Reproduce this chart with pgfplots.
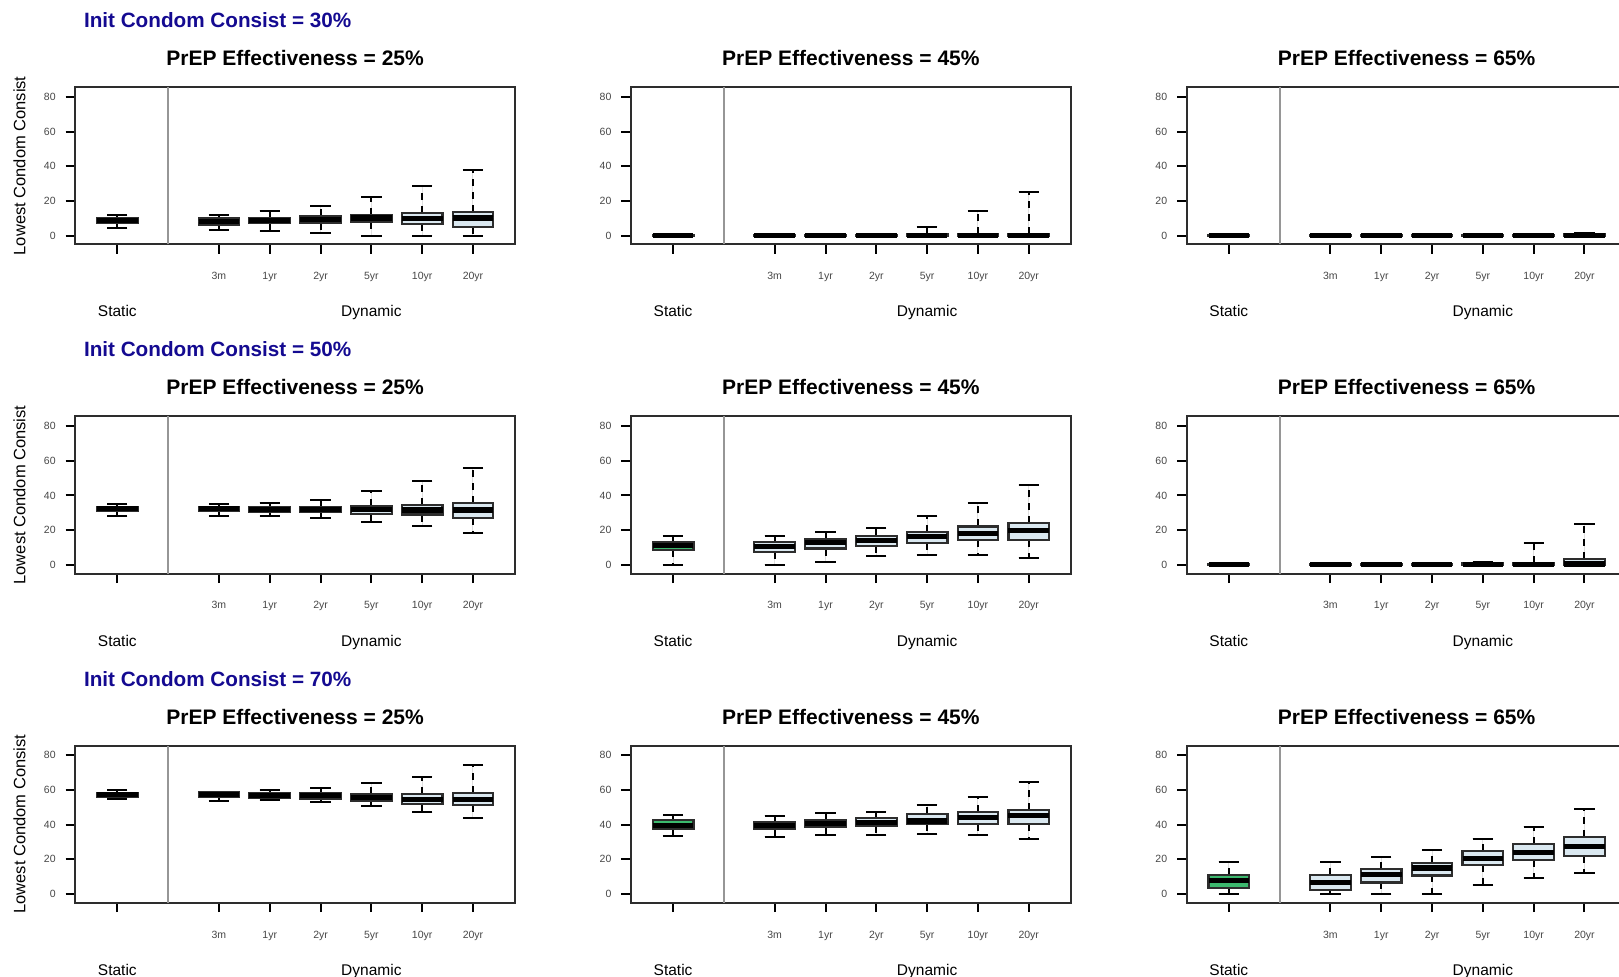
\documentclass[border=0pt]{standalone}
\usepackage{pgfplots}
\pgfplotsset{compat=1.18}
\usepgfplotslibrary{statistics}
\usepackage{fontspec}
\setmainfont{Liberation Sans}
\definecolor{initblue}{RGB}{20,10,145}
\definecolor{boxgreen}{RGB}{60,185,110}
\definecolor{boxblue}{RGB}{218,232,240}
\definecolor{framecol}{RGB}{45,45,45}
\definecolor{sepcol}{RGB}{150,150,150}
\definecolor{ticklab}{RGB}{70,70,70}

\pgfplotsset{
  boxplot/draw direction=y,
  boxplot/draw/lower whisker/.code={%
    \draw[line width=1pt, black, dash pattern=on 3.5pt off 3pt]
      (boxplot box cs:\pgfplotsboxplotvalue{lower quartile},0.5) --
      (boxplot box cs:\pgfplotsboxplotvalue{lower whisker},0.5);
    \draw[line width=1pt, black, solid]
      (boxplot whisker cs:\pgfplotsboxplotvalue{lower whisker},0) --
      (boxplot whisker cs:\pgfplotsboxplotvalue{lower whisker},1);
  },
  boxplot/draw/upper whisker/.code={%
    \draw[line width=1pt, black, dash pattern=on 3.5pt off 3pt]
      (boxplot box cs:\pgfplotsboxplotvalue{upper quartile},0.5) --
      (boxplot box cs:\pgfplotsboxplotvalue{upper whisker},0.5);
    \draw[line width=1pt, black, solid]
      (boxplot whisker cs:\pgfplotsboxplotvalue{upper whisker},0) --
      (boxplot whisker cs:\pgfplotsboxplotvalue{upper whisker},1);
  },
  boxplot/every median/.style={line width=2.6pt, solid, draw=black},
  panel/.style={
    scale only axis, width=220.15pt, height=78.5pt,
    xmin=0.167, xmax=8.833, ymin=-5, ymax=85.5,
    axis line style={line width=1pt, draw=framecol},
    xtick={1,3,4,5,6,7,8}, ytick={0,20,40,60,80},
    xticklabels={}, yticklabels={},
    tick align=outside, xtick pos=bottom, ytick pos=left,
    major tick length=4.75pt,
    tick style={line width=1pt, black},
    clip mode=individual,
    anchor=north west,
  },
}
\tikzset{
  ylab/.style={anchor=east, xshift=-9.5pt, inner sep=0pt, text=ticklab, font=\fontsize{5.25}{6}\selectfont},
  xlab/.style={anchor=base, yshift=-17.7pt, inner sep=0pt, text=ticklab, font=\fontsize{5.25}{6}\selectfont},
  grp/.style={anchor=base, yshift=-36.3pt, inner sep=0pt, text=black, font=\fontsize{7.75}{9}\selectfont},
}

\newcommand{\bx}[7]{\addplot[boxplot prepared={draw position=#1, lower whisker=#2, lower quartile=#3, median=#4, upper quartile=#5, upper whisker=#6, box extend=0.8, whisker extend=0.4}, fill=#7, draw=framecol, line width=1.1pt, solid] coordinates {};}

\newcommand{\deco}{%
  \addplot[sepcol, line width=1pt, forget plot] coordinates {(2,-5) (2,85.5)};
  \node[ylab] at (axis cs:0.167,0) {0};
  \node[ylab] at (axis cs:0.167,20) {20};
  \node[ylab] at (axis cs:0.167,40) {40};
  \node[ylab] at (axis cs:0.167,60) {60};
  \node[ylab] at (axis cs:0.167,80) {80};
  \node[xlab] at (axis cs:3,-5) {3m};
  \node[xlab] at (axis cs:4,-5) {1yr};
  \node[xlab] at (axis cs:5,-5) {2yr};
  \node[xlab] at (axis cs:6,-5) {5yr};
  \node[xlab] at (axis cs:7,-5) {10yr};
  \node[xlab] at (axis cs:8,-5) {20yr};
  \node[grp] at (axis cs:1,-5) {Static};
  \node[grp] at (axis cs:6,-5) {Dynamic};
}

\begin{document}
\begin{tikzpicture}
\useasboundingbox (0pt,0pt) rectangle (809.5pt,-488.5pt);

% ---------- Row 1 : Init 30% ----------
\begin{axis}[panel, at={(37.5pt,-43.65pt)}]
\deco
\bx{1}{4.3}{7.6}{8.8}{10.2}{11.8}{boxgreen}
\bx{3}{3.3}{6.3}{8.2}{10.2}{11.9}{boxblue}
\bx{4}{2.5}{7.3}{8.8}{10.2}{14.4}{boxblue}
\bx{5}{1.5}{7.3}{9.2}{11.1}{16.9}{boxblue}
\bx{6}{0}{7.7}{10.2}{12.1}{22.0}{boxblue}
\bx{7}{0}{6.5}{10.0}{12.9}{28.8}{boxblue}
\bx{8}{0}{4.8}{10.2}{13.6}{38.0}{boxblue}
\end{axis}

\begin{axis}[panel, at={(315.375pt,-43.65pt)}]
\deco
\bx{1}{0}{0}{0}{0.3}{0.5}{boxgreen}
\bx{3}{0}{0}{0}{0.3}{0.5}{boxblue}
\bx{4}{0}{0}{0}{0.3}{0.5}{boxblue}
\bx{5}{0}{0}{0}{0.3}{0.5}{boxblue}
\bx{6}{0}{0}{0.2}{0.8}{5.0}{boxblue}
\bx{7}{0}{0}{0.2}{0.8}{14.2}{boxblue}
\bx{8}{0}{0}{0.2}{1.0}{25.2}{boxblue}
\end{axis}

\begin{axis}[panel, at={(593.25pt,-43.65pt)}]
\deco
\bx{1}{0}{0}{0}{0.3}{0.5}{boxgreen}
\bx{3}{0}{0}{0}{0.3}{0.5}{boxblue}
\bx{4}{0}{0}{0}{0.3}{0.5}{boxblue}
\bx{5}{0}{0}{0}{0.3}{0.5}{boxblue}
\bx{6}{0}{0}{0}{0.3}{0.5}{boxblue}
\bx{7}{0}{0}{0}{0.3}{0.5}{boxblue}
\bx{8}{0}{0}{0.2}{0.9}{1.5}{boxblue}
\end{axis}

% ---------- Row 2 : Init 50% ----------
\begin{axis}[panel, at={(37.5pt,-208.25pt)}]
\deco
\bx{1}{28.0}{31.0}{32.4}{33.5}{34.9}{boxgreen}
\bx{3}{28.0}{31.0}{32.4}{33.5}{34.9}{boxblue}
\bx{4}{28.0}{30.5}{31.8}{33.3}{35.8}{boxblue}
\bx{5}{27.2}{30.5}{31.8}{33.3}{37.3}{boxblue}
\bx{6}{24.8}{29.5}{31.8}{33.9}{42.3}{boxblue}
\bx{7}{22.3}{29.0}{31.6}{34.7}{48.2}{boxblue}
\bx{8}{18.1}{27.2}{31.6}{35.6}{55.8}{boxblue}
\end{axis}

\begin{axis}[panel, at={(315.375pt,-208.25pt)}]
\deco
\bx{1}{0}{8.4}{11.0}{13.0}{16.9}{boxgreen}
\bx{3}{0}{7.5}{10.5}{13.0}{16.9}{boxblue}
\bx{4}{1.9}{9.4}{12.7}{14.8}{18.8}{boxblue}
\bx{5}{5.0}{10.9}{13.8}{16.5}{21.1}{boxblue}
\bx{6}{5.9}{12.7}{16.3}{18.8}{28.0}{boxblue}
\bx{7}{5.9}{14.4}{18.0}{22.1}{35.7}{boxblue}
\bx{8}{4.2}{14.4}{19.6}{24.0}{45.9}{boxblue}
\end{axis}

\begin{axis}[panel, at={(593.25pt,-208.25pt)}]
\deco
\bx{1}{0}{0}{0}{0.3}{0.5}{boxgreen}
\bx{3}{0}{0}{0}{0.3}{0.5}{boxblue}
\bx{4}{0}{0}{0}{0.3}{0.5}{boxblue}
\bx{5}{0}{0}{0}{0.3}{0.5}{boxblue}
\bx{6}{0}{0}{0.2}{0.9}{1.5}{boxblue}
\bx{7}{0}{0}{0.2}{0.8}{12.5}{boxblue}
\bx{8}{0}{0}{0.5}{3.4}{23.3}{boxblue}
\end{axis}

% ---------- Row 3 : Init 70% ----------
\begin{axis}[panel, at={(37.5pt,-372.85pt)}]
\deco
\bx{1}{54.9}{56.1}{57.4}{58.4}{59.9}{boxgreen}
\bx{3}{53.8}{56.1}{57.4}{58.6}{58.9}{boxblue}
\bx{4}{54.0}{55.3}{56.7}{58.0}{59.9}{boxblue}
\bx{5}{53.0}{55.1}{56.7}{58.4}{60.9}{boxblue}
\bx{6}{50.5}{53.6}{55.5}{57.4}{64.1}{boxblue}
\bx{7}{47.1}{51.9}{54.5}{57.6}{67.6}{boxblue}
\bx{8}{43.8}{51.3}{54.5}{58.4}{74.3}{boxblue}
\end{axis}

\begin{axis}[panel, at={(315.375pt,-372.85pt)}]
\deco
\bx{1}{33.6}{37.7}{39.5}{42.5}{45.4}{boxgreen}
\bx{3}{32.9}{37.5}{39.5}{41.7}{45.0}{boxblue}
\bx{4}{33.9}{38.5}{40.6}{42.7}{46.6}{boxblue}
\bx{5}{33.9}{39.2}{41.4}{43.7}{47.3}{boxblue}
\bx{6}{34.6}{40.2}{42.1}{46.0}{51.5}{boxblue}
\bx{7}{33.9}{40.4}{44.3}{47.5}{56.1}{boxblue}
\bx{8}{31.9}{40.4}{45.2}{48.5}{64.5}{boxblue}
\end{axis}

\begin{axis}[panel, at={(593.25pt,-372.85pt)}]
\deco
\bx{1}{0}{3.3}{7.7}{11.1}{18.6}{boxgreen}
\bx{3}{0}{2.5}{6.7}{10.9}{18.6}{boxblue}
\bx{4}{0}{6.7}{11.1}{14.4}{21.3}{boxblue}
\bx{5}{0}{10.7}{15.0}{17.8}{25.3}{boxblue}
\bx{6}{5.2}{16.9}{20.3}{24.6}{32.0}{boxblue}
\bx{7}{9.2}{19.4}{23.8}{28.8}{38.8}{boxblue}
\bx{8}{11.9}{21.7}{27.2}{33.0}{49.1}{boxblue}
\end{axis}

% ---------- Titles and labels ----------
\foreach \T/\P in {43.65/30, 208.25/50, 372.85/70} {
  \node[anchor=base west, inner sep=0pt, text=initblue, font=\fontsize{10.35}{12}\selectfont\bfseries]
    at (41.8pt,{-\T pt+29.75pt}) {Init Condom Consist = \P\%};
  \node[anchor=center, rotate=90, inner sep=0pt, font=\fontsize{8.25}{10}\selectfont]
    at (9.8pt,{-\T pt-39.25pt}) {Lowest Condom Consist};
}
\foreach \T in {43.65, 208.25, 372.85} {
  \foreach \L/\E in {37.5/25, 315.375/45, 593.25/65} {
    \node[anchor=base, inner sep=0pt, font=\fontsize{10.5}{12}\selectfont\bfseries]
      at ({\L pt+110.075pt},{-\T pt+10.75pt}) {PrEP Effectiveness = \E\%};
  }
}
\end{tikzpicture}
\end{document}
